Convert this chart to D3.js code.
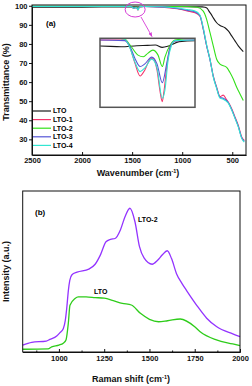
<!DOCTYPE html>
<html>
<head>
<meta charset="utf-8">
<script src="https://cdn.jsdelivr.net/npm/d3@7"></script>
<style>
	body{margin:0;background:#fff;}
	svg{display:block;font-family:"Liberation Sans",Arial,sans-serif;}
	.tick text{font-weight:bold;font-size:7.5px;fill:#111;}
	.axis path,.axis line{stroke:#111;}
</style>
</head>
<body>
<div id="chart"></div>
<script>
// FTIR (panel a) : [wavenumber, transmittance %]
const ftirNames = ['LTO','LTO-1','LTO-2','LTO-3','LTO-4'];
const ftirColors = ['#1a1a1a','#f5336b','#33e01a','#5656d6','#33e6d2'];

const lto = [[2500,99.2],[2000,99.3],[1560,99.42],[1520,99.4],[1490,99.43],[1470,99.44],[1455,99.45],[1442,99.38],[1430,99.42],[1410,99.55],[1380,99.58],[1000,99.5],[800,99.4],[773,99.2],[750,98.6],[733,97.2],[710,95.5],[690,93.7],[656,91.1],[623,89.7],[573,88.5],[540,86.8],[506,84.2],[473,81.6],[440,79],[390,76]];
const lto1 = [[2500,99.6],[2000,99.6],[1560,99.6],[1513,99.6],[1503,99.36],[1494,98.92],[1484,98.53],[1475,98.71],[1465,99.03],[1460,99.06],[1452,98.71],[1446,98.05],[1442,97.77],[1439,98.05],[1433,98.86],[1427,99.39],[1418,99.57],[1380,99.6],[1200,99.3],[1050,98.4],[950,97.3],[872,96.3],[823,94.6],[790,87.7],[756,79],[723,72],[690,63.3],[656,57.3],[623,52.4],[590,53.2],[560,51],[540,49.5],[506,46],[473,41.7],[440,37.3],[406,31.3],[380,29.5]];
const lto2 = [[2500,99.7],[1560,99.7],[1513,99.62],[1503,99.45],[1488,99.15],[1478,99.1],[1469,99.21],[1460,99.3],[1450,99.15],[1442,98.81],[1437,99.09],[1427,99.45],[1418,99.6],[1380,99.65],[1000,99.6],[850,99.2],[790,97.2],[756,92.9],[723,86],[690,79],[656,72],[623,69.4],[556,67.7],[523,65],[490,61.6],[456,57.3],[423,53.8],[390,50.3]];
const lto3 = [[2500,99.6],[1560,99.6],[1513,99.58],[1503,99.4],[1494,99.06],[1484,98.81],[1475,98.89],[1462,99.09],[1452,98.89],[1442,98.33],[1433,98.95],[1427,99.39],[1418,99.57],[1380,99.6],[1200,99.4],[1050,98.6],[950,97.6],[872,96.8],[823,94.8],[790,87.9],[756,79],[723,71.8],[690,63],[656,57],[623,52],[590,51.5],[560,50.5],[540,49.3],[506,45.6],[473,41.3],[440,36.8],[406,30.8],[380,29]];
const lto4 = [[2500,99.7],[1560,99.7],[1513,99.62],[1503,99.35],[1494,98.95],[1484,98.66],[1475,98.77],[1462,99.03],[1452,98.77],[1442,97.87],[1437,98.11],[1431,99.0],[1425,99.42],[1418,99.58],[1380,99.6],[1200,99.5],[1050,98.8],[950,98],[872,97.3],[823,95.2],[790,88.5],[756,79.5],[723,72],[690,62.8],[656,56.6],[623,51.6],[590,51],[560,50],[540,49],[506,45.3],[473,41],[440,36.5],[406,30.5],[380,28.5]];
const ftirSeries = [lto, lto1, lto2, lto3, lto4];
const ftirDrawOrder = [0,2,1,3,4];

const ftirXTicks = [2500,2000,1500,1000,500];
const ftirYTicks = [30,40,50,60,70,80,90,100];

// Raman (panel b) : [raman shift, intensity a.u.]
const ramanLTO2 = [[800,4.3],[850,6],[930,6.8],[950,7.8],[988,9.9],[1006,12],[1024,14.5],[1035,19.5],[1043,27],[1052,38],[1060,44.5],[1072,48],[1100,49.6],[1165,51.5],[1200,54.5],[1230,60.5],[1260,68.5],[1285,70],[1310,70.5],[1340,76],[1365,84],[1392,89.3],[1420,80.9],[1445,65.4],[1470,58.4],[1515,54.5],[1545,57],[1570,60.2],[1598,62.9],[1622,58],[1650,48.5],[1680,42.5],[1706,38],[1761,29],[1816,21],[1870,15.8],[1960,11.2],[2000,9.5]];
const ramanLTO = [[800,1.7],[940,1.9],[960,3.2],[1000,4.3],[1024,5.5],[1039,7.5],[1052,18],[1061,29],[1089,33.3],[1107,34.3],[1150,34.2],[1200,33.8],[1250,33.4],[1300,31.9],[1350,30.2],[1400,29.2],[1450,24],[1500,20.3],[1550,18.8],[1600,19.4],[1670,20.5],[1750,15.7],[1780,12.6],[1870,7.5],[1960,5],[2000,3.9]];
const ramanXTicks = [1000,1250,1500,1750,2000];
const ramanMinor = [875,1125,1375,1625,1875];

const W = 252, H = 386;
const svg = d3.select('#chart').append('svg').attr('width',W).attr('height',H);

svg.append('defs').append('marker')
	.attr('id','arrow').attr('viewBox','0 0 10 10').attr('refX',9).attr('refY',5)
	.attr('markerWidth',5).attr('markerHeight',5).attr('orient','auto')
	.append('path').attr('d','M0,1L10,5L0,9z').attr('fill','#d63bd6');

// ---------- panel a ----------
const a = {left:32,right:246,top:5,bottom:155};
const xA = d3.scaleLinear().domain([2500,363]).range([a.left,a.right]);
const yA = d3.scaleLinear().domain([21.8,100.4]).range([a.bottom,a.top]);

svg.append('g').attr('class','axis')
	.attr('transform',`translate(0,${a.bottom})`)
	.call(d3.axisBottom(xA).tickValues(ftirXTicks).tickSizeInner(-3).tickSizeOuter(0).tickPadding(3).tickFormat(d3.format('d')));
svg.append('g').attr('class','axis')
	.attr('transform',`translate(${a.left},0)`)
	.call(d3.axisLeft(yA).tickValues(ftirYTicks).tickSizeInner(3).tickSizeOuter(0).tickPadding(1.5));

const lineA = d3.line().x(d => xA(d[0])).y(d => yA(d[1])).curve(d3.curveMonotoneX);

ftirDrawOrder.forEach(i => {
	svg.append('path').datum(ftirSeries[i])
		.attr('d',lineA).attr('fill','none')
		.attr('stroke',ftirColors[i]).attr('stroke-width',1.1);
});

svg.append('rect').attr('x',a.left).attr('y',a.top)
	.attr('width',a.right-a.left).attr('height',a.bottom-a.top)
	.attr('fill','none').attr('stroke','#111').attr('stroke-width',1);

svg.append('text').attr('x',46).attr('y',25.5)
	.attr('font-size',8).attr('font-weight','bold').text('(a)');

// inset (same data, zoomed)
const ins = {left:100,right:195,top:38.3,bottom:107.3};
const xI = d3.scaleLinear().domain([1560,1380]).range([ins.left,ins.right]);
const yI = d3.scaleLinear().domain([97.6,99.65]).range([ins.bottom,ins.top]);
svg.append('clipPath').attr('id','insetClip').append('rect')
	.attr('x',ins.left).attr('y',ins.top).attr('width',ins.right-ins.left).attr('height',ins.bottom-ins.top);

svg.append('rect').attr('x',ins.left).attr('y',ins.top)
	.attr('width',ins.right-ins.left).attr('height',ins.bottom-ins.top).attr('fill','#fff');

const lineI = d3.line().x(d => xI(d[0])).y(d => yI(d[1])).curve(d3.curveMonotoneX);
const insG = svg.append('g').attr('clip-path','url(#insetClip)');
ftirDrawOrder.forEach(i => {
	insG.append('path').datum(ftirSeries[i])
		.attr('d',lineI).attr('fill','none')
		.attr('stroke',ftirColors[i]).attr('stroke-width',1.1);
});
svg.append('rect').attr('x',ins.left).attr('y',ins.top)
	.attr('width',ins.right-ins.left).attr('height',ins.bottom-ins.top)
	.attr('fill','none').attr('stroke','#555').attr('stroke-width',1.5);

// circle + arrow pointing at the zoomed region
svg.append('ellipse').attr('cx',(xA(1560)+xA(1380))/2).attr('cy',9.5).attr('rx',10).attr('ry',7.5)
	.attr('fill','none').attr('stroke','#d63bd6').attr('stroke-width',1);
svg.append('line').attr('x1',141).attr('y1',17).attr('x2',152).attr('y2',36.5)
	.attr('stroke','#d63bd6').attr('stroke-width',0.9).attr('marker-end','url(#arrow)');

// legend
const legend = svg.append('g').attr('transform','translate(33,111)');
ftirNames.forEach((n,i) => {
	const row = legend.append('g').attr('transform',`translate(0,${i*8.6})`);
	row.append('line').attr('x1',0).attr('x2',18).attr('stroke',ftirColors[i]).attr('stroke-width',1.2);
	row.append('text').attr('x',20).attr('dy','0.35em').attr('font-size',7).attr('font-weight','bold').text(n);
});

function axisTitle(x, y, main, after, rotate){
	const t = svg.append('text').attr('x',x).attr('y',y)
		.attr('text-anchor','middle').attr('font-size',9).attr('font-weight','bold').attr('fill','#111');
	if (rotate) t.attr('transform',`rotate(-90,${x},${y})`);
	t.append('tspan').text(main);
	if (after !== undefined){
		t.append('tspan').attr('dy',-3).attr('font-size',5.5).text('-1');
		t.append('tspan').attr('dy',3).text(after);
	}
	return t;
}
axisTitle(138,176,'Wavenumber (cm',')');
axisTitle(8.5,82,'Transmittance (%)',undefined,true);

// ---------- panel b ----------
const b = {left:22.7,right:240,top:191,bottom:352};
const xB = d3.scaleLinear().domain([800,2000]).range([b.left,b.right]);
const yB = d3.scaleLinear().domain([0,100]).range([b.bottom,b.top]);

svg.append('g').attr('class','axis')
	.attr('transform',`translate(0,${b.bottom})`)
	.call(d3.axisBottom(xB).tickValues(ramanXTicks).tickSizeInner(-3).tickSizeOuter(0).tickPadding(4).tickFormat(d3.format('d')));
svg.append('g').attr('class','axis')
	.attr('transform',`translate(0,${b.bottom})`)
	.call(d3.axisBottom(xB).tickValues(ramanMinor).tickSizeInner(-1.5).tickSizeOuter(0).tickFormat(''));

const lineB = d3.line().x(d => xB(d[0])).y(d => yB(d[1])).curve(d3.curveMonotoneX);
svg.append('path').datum(ramanLTO).attr('d',lineB).attr('fill','none').attr('stroke','#2ecc1a').attr('stroke-width',1.3);
svg.append('path').datum(ramanLTO2).attr('d',lineB).attr('fill','none').attr('stroke','#9333ff').attr('stroke-width',1.3);

svg.append('rect').attr('x',b.left).attr('y',b.top)
	.attr('width',b.right-b.left).attr('height',b.bottom-b.top)
	.attr('fill','none').attr('stroke','#111').attr('stroke-width',1);

svg.append('text').attr('x',35).attr('y',214.5).attr('font-size',8).attr('font-weight','bold').text('(b)');
svg.append('text').attr('x',138).attr('y',222).attr('font-size',7).attr('font-weight','bold').text('LTO-2');
svg.append('text').attr('x',94).attr('y',293.5).attr('font-size',7).attr('font-weight','bold').text('LTO');

axisTitle(131,382,'Raman shift (cm',')');
axisTitle(8.5,271.5,'Intensity (a.u.)',undefined,true);
</script>
</body>
</html>
